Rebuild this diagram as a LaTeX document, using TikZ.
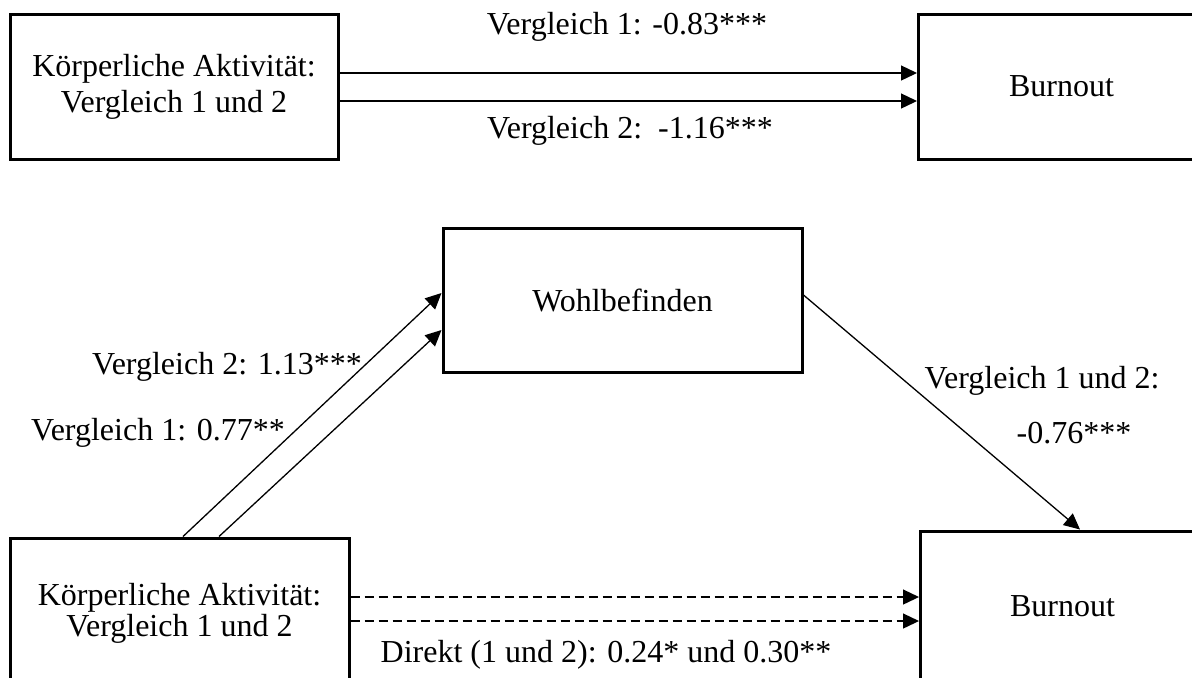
\documentclass[tikz,border=0pt]{standalone}
\usepackage{fontspec}
\setmainfont{Liberation Serif}
\usetikzlibrary{arrows.meta}

\begin{document}
\begin{tikzpicture}[>={Triangle[length=8pt, width=7.5pt]}, x=0.5pt, y=-0.5pt,
        font=\fontsize{16}{18}\selectfont,
        box/.style={draw, line width=1.5pt, inner sep=0pt, align=center},
        arr/.style={->, line width=0.65pt},
        darr/.style={->, line width=0.65pt, dash pattern=on 4.5pt off 2.5pt}]
        \useasboundingbox (0, 0) rectangle (1192, 677);
        \clip (0, 0) rectangle (1192, 677);

        % Nodes
        \node[box, minimum width=164pt, minimum height=72.5pt] (k1) at (174, 86.5) {Körperliche Aktivität:\\Vergleich 1 und 2};
        \node[box, anchor=west, minimum width=155pt, minimum height=72.5pt,
              label={[xshift=-6pt]center:Burnout}] (b1) at (917, 86.5) {};
        \node[box, minimum width=179.5pt, minimum height=72pt] (w) at (622.5, 300) {Wohlbefinden};
        \node[box, minimum width=169.5pt, minimum height=75pt, font=\fontsize{16}{14}\selectfont] (k2) at (179.5, 613) {Körperliche Aktivität:\\Vergleich 1 und 2};
        \node[box, anchor=west, minimum width=155pt, minimum height=75pt,
              label={[xshift=-6.5pt]center:Burnout}] (b2) at (919, 606) {};

        % Arrows
        \draw[arr] (k1.east |- 0, 73) -- (b1.west |- 0, 73);
        \draw[arr] (k1.east |- 0, 101) -- (b1.west |- 0, 101);
        \draw[arr] (183, 0 |- k2.north) -- (w.west |- 0, 293);
        \draw[arr] (219, 0 |- k2.north) -- (w.west |- 0, 330);
        \draw[arr] (w.east |- 0, 295) -- (1080, 0 |- b2.north);
        \draw[darr] (k2.east |- 0, 597) -- (b2.west |- 0, 597);
        \draw[darr] (k2.east |- 0, 621) -- (b2.west |- 0, 621);

        % Annotations
        \node (l1) at (627, 27) {Vergleich 1: -0.83***};
        \node (l2) at (630, 131) {Vergleich 2:\ \ -1.16***};
        \node (l3) at (227, 367) {Vergleich 2: 1.13***};
        \node (l4) at (158, 433) {Vergleich 1: 0.77**};
        \node (l5) at (1042, 381) {Vergleich 1 und 2:};
        \node (l6) at (1074, 433) {-0.76***};
        \node (l7) at (606, 655) {Direkt (1 und 2): 0.24* und 0.30**};
    \end{tikzpicture}
\end{document}
